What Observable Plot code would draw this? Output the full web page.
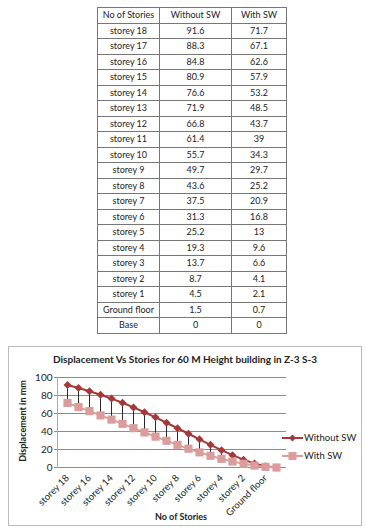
<!DOCTYPE html>
<html><head><meta charset="utf-8">
<script src="https://cdn.jsdelivr.net/npm/d3@7"></script>
<script src="https://cdn.jsdelivr.net/npm/@observablehq/plot@0.6"></script>
<style>
body{margin:0;width:366px;height:532px;position:relative;background:#fff;font-family:Lato,"Open Sans",sans-serif;overflow:hidden;color:#222}
#tbl{position:absolute;left:97px;top:7px;border-collapse:collapse;font-size:9px;table-layout:fixed}
#tbl td{border:1px solid #777;height:14.5px;padding:0;text-align:center;line-height:14px;white-space:nowrap}
#frame{position:absolute;left:8px;top:346px;width:352px;height:178px;border:1px solid #bbb}
#title{position:absolute;left:0;width:352px;top:6px;text-align:center;font-weight:bold;font-size:10px}
#chart{position:absolute;left:0;top:0}
#ytitle{position:absolute;left:13px;top:74px;font-weight:bold;font-size:9px;transform:rotate(-90deg);transform-origin:center;width:0;height:0}
#ytitle span{position:absolute;transform:translate(-50%,-50%);white-space:nowrap}
#xtitle{position:absolute;left:0;width:344px;top:164px;text-align:center;font-weight:bold;font-size:9px}
.leg{position:absolute;left:273px;font-size:9.5px;display:flex;align-items:center}
.leg svg{margin-right:1px}
</style>
</head><body>
<table id="tbl"><colgroup><col style="width:62px"><col style="width:72px"><col style="width:55px"></colgroup><tbody></tbody></table>
<div id="frame">
  <div id="chart"></div>
  <div id="title">Displacement Vs Stories for 60 M Height building in Z-3 S-3</div>
  <div id="ytitle"><span>Displacement in mm</span></div>
  <div id="xtitle">No of Stories</div>
  <div class="leg" id="leg1" style="top:85px"></div>
  <div class="leg" id="leg2" style="top:103px"></div>
</div>
<script>
const stories = ["storey 18","storey 17","storey 16","storey 15","storey 14","storey 13","storey 12","storey 11","storey 10","storey 9","storey 8","storey 7","storey 6","storey 5","storey 4","storey 3","storey 2","storey 1","Ground floor","Base"];
const withoutSW = [91.6,88.3,84.8,80.9,76.6,71.9,66.8,61.4,55.7,49.7,43.6,37.5,31.3,25.2,19.3,13.7,8.7,4.5,1.5,0];
const withSW = [71.7,67.1,62.6,57.9,53.2,48.5,43.7,39,34.3,29.7,25.2,20.9,16.8,13,9.6,6.6,4.1,2.1,0.7,0];
const tableHeaders = ["No of Stories","Without SW","With SW"];
const xTickLabels = ["storey 18","storey 16","storey 14","storey 12","storey 10","storey 8","storey 6","storey 4","storey 2","Ground floor"];
const yTicks = [0,20,40,60,80,100];
const seriesNames = ["Without SW","With SW"];
const colWithout = "#A3393A", colWith = "#DB9C9C";

// table
const tb = document.querySelector("#tbl tbody");
const addRow = cells => { const tr = document.createElement("tr"); cells.forEach(c => { const td = document.createElement("td"); td.textContent = c; tr.appendChild(td); }); tb.appendChild(tr); };
addRow(tableHeaders);
stories.forEach((s,i) => addRow([s, withoutSW[i], withSW[i]]));

const data = stories.map((s,i) => ({story:s, without:withoutSW[i], with:withSW[i]}));

const plot = Plot.plot({
  width: 352, height: 178,
  marginLeft: 48, marginTop: 30, marginBottom: 58, marginRight: 75,
  style: {fontFamily: "Lato, sans-serif", fontSize: "10px", color: "#222", background: "transparent"},
  x: {type: "point", domain: stories, padding: 0.6},
  y: {domain: [0,100]},
  marks: [
    Plot.gridY(yTicks, {stroke: "#8c8c8c", strokeOpacity: 1, strokeWidth: 1}),
    Plot.frame({anchor: "left", stroke: "#aaa"}),
    Plot.axisY(yTicks, {tickSize: 3, stroke: "#8c8c8c", label: null, tickPadding: 2, fontSize: 10}),
    Plot.axisX(xTickLabels, {tickRotate: -45, tickSize: 0, label: null, tickPadding: 9, fontSize: 9.5}),
    Plot.ruleX(data, {x: "story", y1: "with", y2: "without", stroke: "#111", strokeWidth: 0.9}),
    Plot.line(data, {x: "story", y: "without", stroke: colWithout, strokeWidth: 2}),
    Plot.dot(data, {x: "story", y: "without", symbol: "diamond2", r: 3.6, fill: colWithout, stroke: null}),
    Plot.line(data, {x: "story", y: "with", stroke: colWith, strokeWidth: 2}),
    Plot.dot(data, {x: "story", y: "with", symbol: "square", r: 4.6, fill: colWith, stroke: null})
  ]
});
document.getElementById("chart").appendChild(plot);

function swatch(col, shape){
  const s = d3.create("svg").attr("width", 21).attr("height", 10);
  s.append("line").attr("x1",0).attr("x2",21).attr("y1",5).attr("y2",5).attr("stroke",col).attr("stroke-width",2);
  if (shape === "diamond") s.append("path").attr("d","M10.5,1.5L14,5L10.5,8.5L7,5Z").attr("fill",col);
  else s.append("rect").attr("x",6.5).attr("y",1).attr("width",8).attr("height",8).attr("fill",col);
  return s.node();
}
const l1 = document.getElementById("leg1"); l1.appendChild(swatch(colWithout,"diamond")); l1.append(seriesNames[0]);
const l2 = document.getElementById("leg2"); l2.appendChild(swatch(colWith,"square")); l2.append(seriesNames[1]);
</script>
</body></html>
